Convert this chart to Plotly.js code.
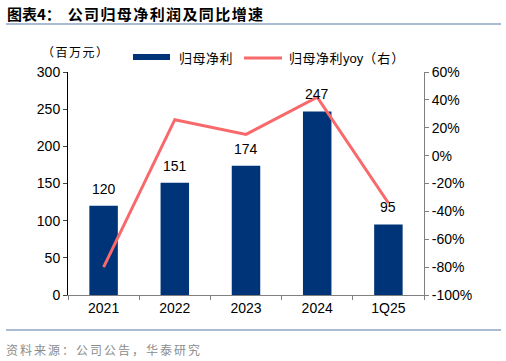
<!DOCTYPE html>
<html><head><meta charset="utf-8">
<script src="https://cdn.plot.ly/plotly-3.0.1.min.js"></script>
<style>html,body{margin:0;padding:0;background:#fff}#c{width:506px;height:361px}</style>
</head><body><div id="c"></div>
<script>
const categories = ["2021","2022","2023","2024","1Q25"];
const netProfit = [120,151,174,247,95];
const yoy = [-80,25.8,15.2,42,-34];
const leftTicks = [0,50,100,150,200,250,300];
const rightTicks = [-100,-80,-60,-40,-20,0,20,40,60];

const latin = "Liberation Sans, Arial, sans-serif";
const cjk = "Noto Sans CJK SC, sans-serif";
const px = (x)=>(x-68)/356, py = (y)=>(361-66-y)/223;

const traces = [
  {type:"bar", x:categories, y:netProfit, name:"归母净利",
   marker:{color:"#003478"}, showlegend:false},
  {type:"scatter", mode:"lines", x:categories, y:yoy, yaxis:"y2", name:"归母净利yoy（右）",
   line:{color:"#F8696B",width:3}, showlegend:false}
];

// category index positions (avoid "2021" being read as a numeric index)
const labelAnns = categories.map((c,i)=>({x:i, y:netProfit[i], xref:"x", yref:"y",
  text:String(netProfit[i]), showarrow:false, yanchor:"bottom", yshift:7,
  font:{family:latin,size:14,color:"#000"}}));

const layout = {
  width:506, height:361, margin:{l:68,r:82,t:72,b:66},
  paper_bgcolor:"#fff", plot_bgcolor:"#fff", bargap:0.6,
  font:{family:latin,size:14,color:"#000"},
  xaxis:{type:"category", range:[-0.5,4.5], showline:true, linecolor:"#808080", linewidth:1,
    ticks:"outside", tickson:"boundaries", ticklen:4, tickcolor:"#808080",
    tickfont:{family:latin,size:14}, showgrid:false, zeroline:false},
  yaxis:{range:[0,300], tickvals:leftTicks, showline:true, linecolor:"#000", linewidth:1,
    ticks:"outside", ticklen:4, showgrid:false, zeroline:false, tickfont:{family:latin,size:14}},
  yaxis2:{range:[-100,60], tickvals:rightTicks, ticktext:rightTicks.map(v=>v+"%"),
    overlaying:"y", side:"right", showline:true, linecolor:"#808080", linewidth:1,
    ticks:"outside", ticklen:4, tickcolor:"#808080", showgrid:false, zeroline:false,
    tickfont:{family:latin,size:14}},
  shapes:[
    {type:"line", xref:"paper", yref:"paper", x0:px(6), x1:px(501), y0:py(24), y1:py(24),
     line:{color:"#A9BCD3",width:2}},
    {type:"line", xref:"paper", yref:"paper", x0:px(6), x1:px(501), y0:py(330), y1:py(330),
     line:{color:"#A9BCD3",width:2}},
    {type:"rect", xref:"paper", yref:"paper", x0:px(133), x1:px(170),
     y0:py(60), y1:py(54), fillcolor:"#003478", line:{width:0}},
    {type:"line", xref:"paper", yref:"paper", x0:px(244), x1:px(282),
     y0:py(58), y1:py(58), line:{color:"#F8696B",width:3}}
  ],
  annotations:labelAnns.concat([
    {xref:"paper", yref:"paper", x:px(5), y:py(14), xanchor:"left", yanchor:"middle",
     text:"<b>图表4：  <span style=\"letter-spacing:1.4px\">公司归母净利润及同比增速</span></b>", showarrow:false,
     font:{family:cjk,size:15,color:"#000"}},
    {xref:"paper", yref:"paper", x:px(40), y:py(52), xanchor:"left", yanchor:"middle",
     text:"<span style=\"letter-spacing:1.5px\">（百万元）</span>", showarrow:false, font:{family:cjk,size:12,color:"#000"}},
    {xref:"paper", yref:"paper", x:px(177), y:py(57), xanchor:"left", yanchor:"middle",
     text:"<span style=\"letter-spacing:0.5px\">归母净利</span>", showarrow:false, font:{family:cjk,size:13,color:"#000"}},
    {xref:"paper", yref:"paper", x:px(287), y:py(57), xanchor:"left", yanchor:"middle",
     text:"<span style=\"letter-spacing:0.5px\">归母净利</span><span style=\"font-family:Liberation Sans\">yoy</span><span style=\"letter-spacing:1px\">（右）</span>", showarrow:false, font:{family:cjk,size:13,color:"#000"}},
    {xref:"paper", yref:"paper", x:px(4), y:py(349), xanchor:"left", yanchor:"middle",
     text:"<span style=\"letter-spacing:2px\">资料来源：公司公告，华泰研究</span>", showarrow:false, font:{family:cjk,size:12,color:"#8C8C8C"}}
  ])
};
Plotly.newPlot("c", traces, layout, {staticPlot:true, displayModeBar:false});
</script></body></html>
